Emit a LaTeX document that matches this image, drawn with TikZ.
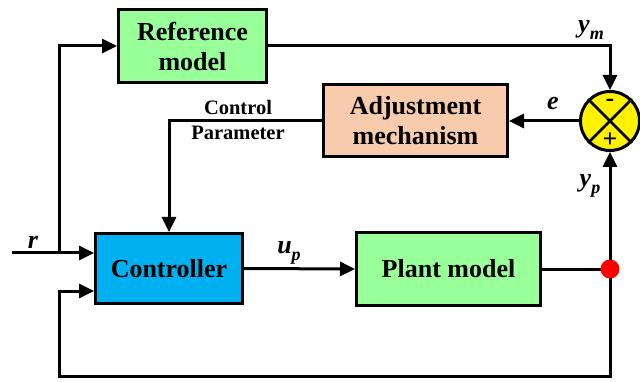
\documentclass[tikz,border=0pt]{standalone}
\usepackage{fontspec}
\setmainfont{Liberation Serif}
\usetikzlibrary{arrows.meta,backgrounds}
\definecolor{blockgreen}{RGB}{153,255,153}
\definecolor{blockpeach}{RGB}{248,203,173}
\definecolor{blockblue}{RGB}{0,176,240}
\newcommand{\lowsub}[1]{\raisebox{-0.28em}{\fontsize{18}{18}\selectfont #1}}
\begin{document}
\begin{tikzpicture}[x=1pt,y=-1pt,line width=3pt,
  blk/.style={draw,line width=3pt,rectangle,inner sep=0pt,align=center,
    font=\bfseries\fontsize{26}{30}\selectfont},
  wire/.style={line width=3pt,line join=miter},
  arr/.style={wire,-{Triangle[length=15pt,width=14pt]}},
  lbl/.style={font=\bfseries\itshape\fontsize{26}{27}\selectfont,inner sep=0pt},
  small/.style={font=\bfseries\fontsize{20.5}{22}\selectfont,inner sep=0pt}]
\useasboundingbox (0,0) rectangle (640,382);

% blocks
\node[blk,fill=blockgreen,minimum width=148pt,minimum height=73pt] (ref) at (192.5,46) {Reference\\model};
\node[blk,fill=blockpeach,minimum width=184pt,minimum height=72pt] (adj) at (415.5,121) {Adjustment\\mechanism};
\node[blk,fill=blockblue,minimum width=147pt,minimum height=70pt] (ctrl) at (169,268.5) {Controller};
\node[blk,fill=blockgreen,minimum width=184pt,minimum height=72pt] (plant) at (448.5,269) {Plant model};

% summing junction
\node[circle,draw,line width=3pt,fill=yellow,minimum size=59pt,inner sep=0pt] (sum) at (610,121) {};
\draw[line width=2.5pt] (sum.north west) -- (sum.south east);
\draw[line width=2.5pt] (sum.north east) -- (sum.south west);
\node[font=\bfseries\fontsize{26}{26}\selectfont,inner sep=0pt] (minus) at (610,103) {-};
\node[font=\bfseries\fontsize{26}{26}\selectfont,inner sep=0pt] (plus) at (610,140) {+};

% pick-off point of the plant output
\node[circle,fill=red,minimum size=19pt,inner sep=0pt] (dot) at (610,269) {};

% free ends and corners
\coordinate (rin) at (12,253);
\coordinate (rbranch) at (59,253);
\coordinate (fbr) at (610,376);
\coordinate (fbl) at (59,376);
\coordinate (fbin) at (59,291);

\begin{pgfonlayer}{background}
\draw[arr] (rin) -- (ctrl.west |- rin);
\draw[arr] (rbranch) |- (ref.west);
\draw[arr] (ref.east) -| (sum.north);
\draw[arr] (sum.west) -- (adj.east);
\draw[arr] (adj.west) -| (ctrl.north);
\draw[arr] (ctrl.east) -- (plant.west);
\draw[wire] (plant.east) -- (dot.center);
\draw[arr] (dot.center) -- (sum.south);
\draw[arr] (dot.center) -- (fbr) -- (fbl) |- (ctrl.west |- fbin);
\end{pgfonlayer}

% signal labels
\node[lbl] (rlab) at (33,242) {r};
\node[lbl] (uplab) at (289,253) {u\lowsub{p}};
\node[lbl] (ymlab) at (591,30) {y\lowsub{m}};
\node[lbl] (yplab) at (590,186) {y\lowsub{p}};
\node[lbl] (elab) at (553,104) {e};
\node[small] (cp1) at (238,107) {Control};
\node[small] (cp2) at (238,133) {Parameter};
\end{tikzpicture}
\end{document}
